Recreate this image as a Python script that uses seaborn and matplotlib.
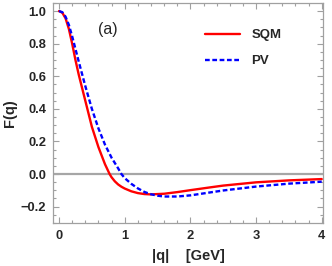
import matplotlib
matplotlib.use("Agg")
import matplotlib.pyplot as plt
from matplotlib.lines import Line2D
from matplotlib.ticker import MultipleLocator
import pandas as pd
import seaborn as sns

# =====================================================
# DATA
# =====================================================

q_sqm = [0.0, 0.05, 0.1, 0.15, 0.2, 0.25, 0.3, 0.4, 0.5, 0.6, 0.7, 0.77, 0.8,
         0.85, 0.9, 0.95, 1.0, 1.1, 1.2, 1.3, 1.4, 1.6, 1.8, 2.0, 2.3, 2.5,
         3.0, 3.5, 4.0]
f_sqm = [1.0, 0.99, 0.955, 0.89, 0.80, 0.70, 0.61, 0.45, 0.29, 0.165, 0.06,
         0.0, -0.02, -0.045, -0.064, -0.078, -0.089, -0.106, -0.117, -0.123,
         -0.125, -0.121, -0.111, -0.099, -0.082, -0.071, -0.051, -0.039, -0.031]

q_pv = [0.0, 0.05, 0.1, 0.15, 0.2, 0.3, 0.4, 0.5, 0.6, 0.7, 0.8, 0.9, 0.95,
        1.0, 1.1, 1.2, 1.3, 1.4, 1.5, 1.6, 1.8, 2.0, 2.3, 2.5, 3.0, 3.5, 4.0]
f_pv = [1.0, 0.993, 0.965, 0.915, 0.845, 0.69, 0.54, 0.40, 0.28, 0.18, 0.10,
        0.035, 0.0, -0.025, -0.06, -0.088, -0.11, -0.124, -0.133, -0.138,
        -0.138, -0.131, -0.113, -0.101, -0.077, -0.059, -0.047]

labels = ["SQM", "PV"]
colors = ["#ff0000", "#0000ff"]

df = pd.concat([
    pd.DataFrame({"q": q_sqm, "F": f_sqm, "Model": labels[0]}),
    pd.DataFrame({"q": q_pv, "F": f_pv, "Model": labels[1]}),
], ignore_index=True)

# =====================================================
# PLOT
# =====================================================

sns.set_theme(style="white")
plt.rcParams["font.family"] = ["Liberation Sans", "DejaVu Sans"]

fig = plt.figure(figsize=(3.32, 2.66), dpi=100)
ax = fig.add_axes([0.16, 0.162, 0.813, 0.827])

ax.axhline(0, color="#a6a6a6", lw=1.6, zorder=1)

dash = (2.0, 1.1)

sns.lineplot(
    data=df,
    x="q",
    y="F",
    hue="Model",
    style="Model",
    palette=dict(zip(labels, colors)),
    dashes={"SQM": "", "PV": dash},
    linewidth=1.7,
    sort=False,
    ax=ax,
    legend=False,
    zorder=3,
)

ax.set_xlim(-0.09, 4.02)
ax.set_ylim(-0.3, 1.05)

ax.xaxis.set_minor_locator(MultipleLocator(0.2))
ax.yaxis.set_minor_locator(MultipleLocator(0.05))
ax.set_xticks([0, 1, 2, 3, 4])
ax.set_xticklabels(["0", "1", "2", "3", "4"])
ax.set_yticks([-0.2, 0.0, 0.2, 0.4, 0.6, 0.8, 1.0])
ax.set_yticklabels(["\u22120.2", "0.0", "0.2", "0.4", "0.6", "0.8", "1.0"])

frame_col = "#a0a0a0"
for s in ax.spines.values():
    s.set_color(frame_col)
    s.set_linewidth(0.9)

ax.tick_params(which="both", direction="in", bottom=True, left=True,
               top=True, right=True, color=frame_col, width=0.8)
ax.tick_params(which="major", length=4, labelsize=9.3, pad=5)
ax.tick_params(which="minor", length=2.2)
for t in ax.get_xticklabels() + ax.get_yticklabels():
    t.set_fontweight("bold")

ax.set_xlabel("|q|    [GeV]", fontsize=10.5, fontweight="bold", labelpad=5)
ax.set_ylabel("F(q)", fontsize=10.5, fontweight="bold", labelpad=3)

ax.text(0.74, 0.885, "(a)", fontsize=11.5, ha="center", va="center")

# legend
handles = [
    Line2D([], [], color=colors[0], lw=1.7),
    Line2D([], [], color=colors[1], lw=1.7, ls=(0, dash)),
]
ax.legend(handles, labels, loc="upper left",
          bbox_to_anchor=(0.52, 0.935), frameon=False,
          handlelength=2.6, handletextpad=0.9, labelspacing=1.05,
          prop={"weight": "bold", "size": 9.5})

fig.savefig("out.png", dpi=100)
plt.close(fig)
